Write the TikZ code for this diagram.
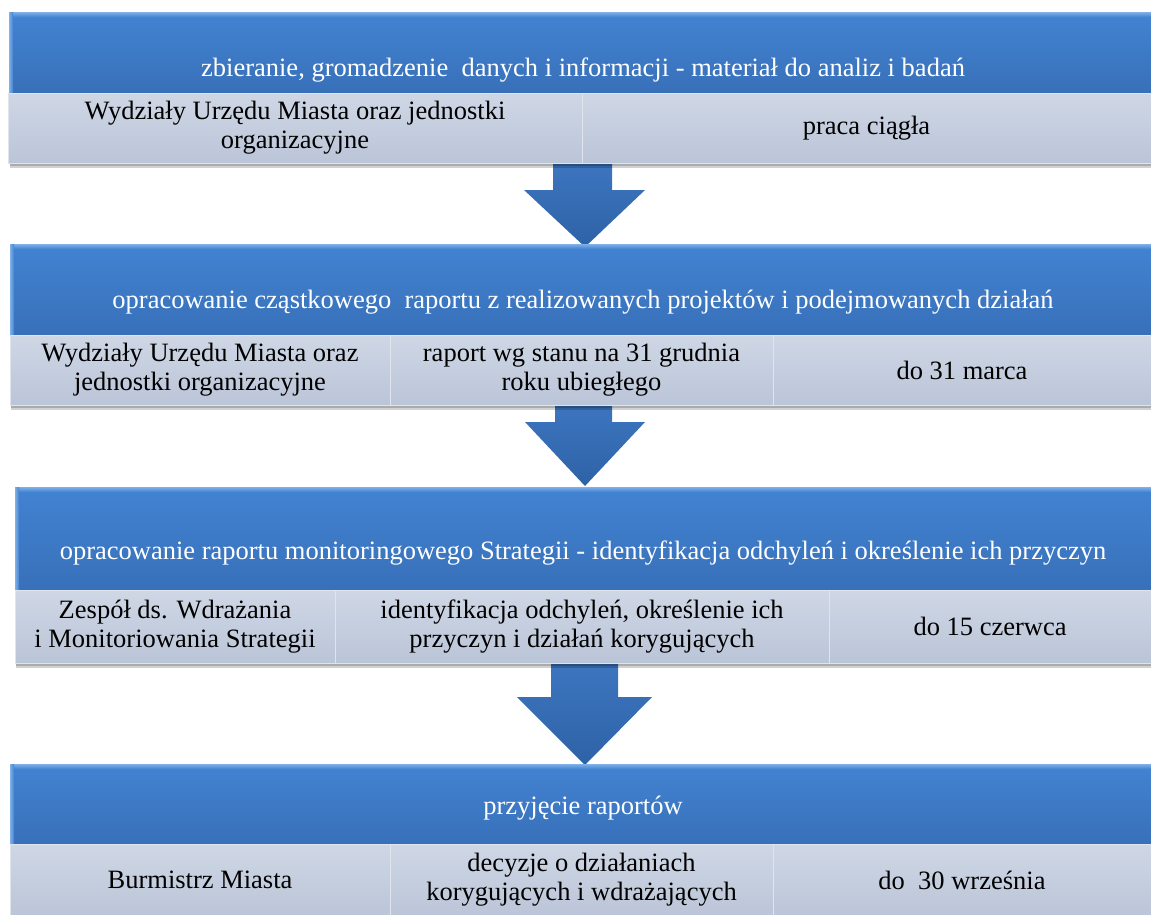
\documentclass[tikz,border=0pt]{standalone}
\usepackage{fontspec}
\setmainfont{Liberation Serif}
\newfontfamily\tnr{LiberationSerif-Regular.ttf}
\usetikzlibrary{calc}
\definecolor{bluetop}{HTML}{4283D2}
\definecolor{bluebot}{HTML}{3870B9}
\definecolor{bluehi}{HTML}{7FB0E8}
\definecolor{celltop}{HTML}{CFD7E5}
\definecolor{cellbot}{HTML}{BBC5D8}
\definecolor{arrtop}{HTML}{3D76C0}
\definecolor{arrbot}{HTML}{2E62A6}
\begin{document}
\begin{tikzpicture}[x=1pt,y=-1pt,
  band/.style={top color=bluetop,bottom color=bluebot,draw=none},
  hilite/.style={top color=bluehi,bottom color=bluetop,draw=none},
  sidelite/.style={left color=bluehi,right color=bluetop,draw=none},
  shadowbox/.style={fill=black,opacity=0.18,draw=none},
  title/.style={text=white,font=\tnr\fontsize{26.5}{30}\selectfont,inner sep=0pt},
  cell/.style={top color=celltop,bottom color=cellbot,draw=white!55!cellbot,line width=1pt,
    inner sep=0pt,font=\tnr\fontsize{26.5}{29}\selectfont,align=center,text=black},
  bigarrow/.style={top color=arrtop,bottom color=arrbot,draw=none}
]
\useasboundingbox (0,0) rectangle (1151,914);

% arrows (behind the blocks)
\path[bigarrow] (553,160) -- (612,160) -- (612,190) -- (645,190) -- (585,247) -- (524,190) -- (553,190) -- cycle;
\path[bigarrow] (555,402) -- (612,402) -- (612,422) -- (645,422) -- (585,486) -- (525,422) -- (555,422) -- cycle;
\path[bigarrow] (551,660) -- (618,660) -- (618,697) -- (652,697) -- (585,765) -- (517,697) -- (551,697) -- cycle;

% ---------- block 1
\path[band] (9,12) rectangle (1151,93);
\path[hilite] (9,12) rectangle (1151,17);
\path[sidelite] (9,12) rectangle (13,93);
\node[title] (t1) at (583,70) {zbieranie, gromadzenie\ \ danych i informacji - materiał do analiz i badań};
\path[shadowbox] (10,96) rectangle (1151,168);
\path[shadowbox] (10,96) rectangle (1151,166);
\node[cell,minimum width=574pt,minimum height=70pt] (c11) at (295,128) {Wydziały Urzędu Miasta oraz jednostki\\organizacyjne};
\node[cell,minimum width=569pt,minimum height=70pt] (c12) at (866.5,128) {praca ciągła};

% ---------- block 2
\path[band] (10,244) rectangle (1151,335);
\path[hilite] (10,244) rectangle (1151,249);
\path[sidelite] (10,244) rectangle (14,335);
\node[title] (t2) at (583,302) {opracowanie cząstkowego\ \ raportu z realizowanych projektów i podejmowanych działań};
\path[shadowbox] (11,338) rectangle (1151,410);
\path[shadowbox] (11,338) rectangle (1151,408);
\node[cell,minimum width=380pt,minimum height=70pt] (c21) at (200,370) {Wydziały Urzędu Miasta oraz\\jednostki organizacyjne};
\node[cell,minimum width=383pt,minimum height=70pt] (c22) at (581.5,370) {raport wg stanu na 31 grudnia\\roku ubiegłego};
\node[cell,minimum width=378pt,minimum height=70pt] (c23) at (962,370) {do 31 marca};

% ---------- block 3
\path[band] (15,487) rectangle (1151,590);
\path[hilite] (15,487) rectangle (1151,492);
\path[sidelite] (15,487) rectangle (19,590);
\node[title] (t3) at (583,553) {opracowanie raportu monitoringowego Strategii - identyfikacja odchyleń i określenie ich przyczyn};
\path[shadowbox] (16,593) rectangle (1151,668);
\path[shadowbox] (16,593) rectangle (1151,666);
\node[cell,minimum width=320pt,minimum height=73pt] (c31) at (175,626.5) {Zespół ds. Wdrażania\\i Monitoriowania Strategii};
\node[cell,minimum width=494pt,minimum height=73pt] (c32) at (582,626.5) {identyfikacja odchyleń, określenie ich\\przyczyn i działań korygujących};
\node[cell,minimum width=322pt,minimum height=73pt] (c33) at (990,626.5) {do 15 czerwca};

% ---------- block 4
\path[band] (10,764) rectangle (1151,844);
\path[hilite] (10,764) rectangle (1151,769);
\path[sidelite] (10,764) rectangle (14,844);
\node[title] (t4) at (583,808) {przyjęcie raportów};
\node[cell,minimum width=380pt,minimum height=72pt] (c41) at (200,880) {Burmistrz Miasta};
\node[cell,minimum width=383pt,minimum height=72pt] (c42) at (581.5,880) {decyzje o działaniach\\korygujących i wdrażających};
\node[cell,minimum width=378pt,minimum height=72pt] (c43) at (962,880) {do\ \ 30 września};
\end{tikzpicture}
\end{document}
